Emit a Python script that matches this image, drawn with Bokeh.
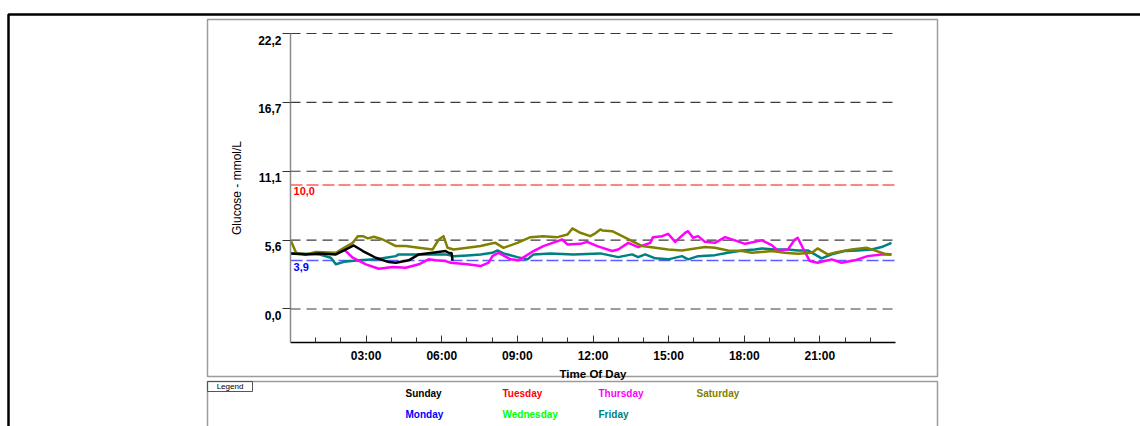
from bokeh.plotting import figure
from bokeh.models import FixedTicker, Label, BoxAnnotation, Range1d
from bokeh.embed import file_html
from bokeh.resources import INLINE

# ---------------- data ----------------
days = ["Sunday", "Monday", "Tuesday", "Wednesday", "Thursday", "Friday", "Saturday"]
day_colors = ["#000000", "#0000ff", "#ff0000", "#00ff00", "#ff00ff", "#008080", "#808000"]

y_ticks = [0.0, 5.55, 11.1, 16.65, 22.2]
y_tick_labels = ["0,0", "5,6", "11,1", "16,7", "22,2"]
x_ticks = [3, 6, 9, 12, 15, 18, 21]
x_tick_labels = ["03:00", "06:00", "09:00", "12:00", "15:00", "18:00", "21:00"]
x_minor_ticks = list(range(1, 24))
x_bounds = (0, 24)
y_bounds = (-2.7, 22.2)

low_limit = 3.9
low_label = "3,9"
high_limit = 10.0
high_label = "10,0"

sunday_hours = [0.02, 0.61, 1.13, 1.80, 2.20, 2.51, 2.87, 3.38, 3.90, 4.18, 4.69, 5.09,
                5.64, 6.15, 6.27, 6.39, 6.43]
sunday_values = [4.48, 4.40, 4.48, 4.40, 4.80, 5.12, 4.67, 4.13, 3.78, 3.73, 3.92, 4.40,
                 4.53, 4.67, 4.53, 4.50, 3.90]

friday_hours = [0.02, 0.61, 1.13, 1.60, 1.80, 2.12, 2.71, 3.38, 3.78, 4.18, 4.29, 4.85,
                5.64, 6.15, 6.47, 7.02, 7.54, 8.01, 8.21, 8.45, 9.00, 9.40, 9.64, 10.31,
                11.22, 12.29, 13.00, 13.55, 13.79, 14.07, 14.47, 14.98, 15.53, 15.77,
                16.17, 16.84, 17.35, 17.91, 18.42, 18.70, 19.21, 19.73, 20.12, 20.52,
                20.80, 21.07, 21.47, 21.98, 22.50, 23.05, 23.45, 23.84]
friday_values = [4.48, 4.45, 4.40, 4.13, 3.60, 3.80, 3.92, 4.00, 4.13, 4.26, 4.40, 4.40,
                 4.40, 4.40, 4.26, 4.32, 4.40, 4.53, 4.72, 4.48, 4.18, 4.00, 4.40, 4.48,
                 4.40, 4.48, 4.18, 4.40, 4.18, 4.40, 4.08, 4.00, 4.26, 4.00,
                 4.26, 4.34, 4.53, 4.72, 4.80, 4.88, 4.80, 4.80, 4.72, 4.72,
                 4.40, 4.08, 4.40, 4.67, 4.72, 4.80, 4.99, 5.33]

thursday_hours = [2.12, 2.47, 2.99, 3.50, 4.06, 4.57, 5.09, 5.48, 5.76, 6.15, 6.35, 7.02,
                  7.54, 7.86, 8.01, 8.25, 8.73, 9.04, 9.32, 9.64, 10.03, 10.51, 10.78,
                  10.98, 11.50, 11.77, 12.17, 12.76, 13.00, 13.40, 13.79, 14.27, 14.38,
                  14.74, 14.98, 15.26, 15.65, 15.77, 15.97, 16.17, 16.44, 16.84, 17.24,
                  17.63, 18.03, 18.70, 19.09, 19.33, 19.73, 20.01, 20.12, 20.32, 20.60,
                  20.91, 21.47, 21.86, 22.38, 22.89, 23.45, 23.84]
thursday_values = [4.80, 4.13, 3.60, 3.24, 3.38, 3.32, 3.60, 4.00, 3.92, 3.86, 3.73, 3.60,
                   3.46, 3.73, 4.26, 4.53, 4.00, 3.92, 4.26, 4.67, 5.07, 5.41, 5.60,
                   5.20, 5.25, 5.41, 5.07, 4.67, 4.80, 5.33, 4.99, 5.33, 5.79,
                   5.87, 6.06, 5.41, 6.14, 6.27, 5.74, 5.87, 5.41, 5.33, 5.79,
                   5.53, 5.25, 5.53, 5.15, 4.72, 4.80, 5.60, 5.74, 4.93, 3.86,
                   3.73, 4.00, 3.73, 3.92, 4.26, 4.40, 4.40]

saturday_hours = [0.02, 0.22, 0.61, 1.01, 1.80, 2.12, 2.47, 2.67, 2.87, 3.07, 3.31, 3.66,
                  4.18, 4.57, 5.09, 5.64, 5.88, 6.07, 6.23, 6.47, 7.02, 7.54, 7.93, 8.13,
                  8.45, 9.00, 9.52, 10.03, 10.59, 10.99, 11.18, 11.50, 11.89, 12.09,
                  12.29, 12.37, 12.76, 13.16, 13.55, 13.95, 14.47, 14.98, 15.53, 16.05,
                  16.44, 16.84, 17.35, 17.91, 18.30, 19.09, 19.61, 20.12, 20.68, 20.91,
                  21.31, 21.71, 22.26, 22.85, 23.17, 23.56, 23.84]
saturday_values = [5.47, 4.53, 4.40, 4.60, 4.53, 4.93, 5.33, 5.87, 5.87, 5.69, 5.82, 5.60,
                   5.07, 5.07, 4.93, 4.80, 5.60, 5.87, 4.93, 4.80, 4.93, 5.07, 5.25, 5.33,
                   4.93, 5.33, 5.79, 5.87, 5.79, 6.00, 6.49, 6.14, 5.87, 6.10,
                   6.41, 6.33, 6.27, 5.87, 5.47, 5.07, 4.93, 4.80, 4.72, 4.88,
                   4.99, 4.93, 4.72, 4.67, 4.53, 4.67, 4.53, 4.45, 4.53, 4.88,
                   4.40, 4.60, 4.80, 4.93, 4.72, 4.45, 4.40]

series = [
    ("Friday", friday_hours, friday_values),
    ("Thursday", thursday_hours, thursday_values),
    ("Saturday", saturday_hours, saturday_values),
    ("Sunday", sunday_hours, sunday_values),
]

FONT = "Liberation Sans"
W, H = 1140, 426

# plot-area placement on the page (pixels)
PX_LEFT, PX_RIGHT, PX_TOP, PX_BOTTOM = 290, 895, 33, 342
kx = (PX_RIGHT - PX_LEFT) / (x_bounds[1] - x_bounds[0])
ky = (PX_BOTTOM - PX_TOP) / (y_bounds[1] - y_bounds[0])
x_start = x_bounds[0] - PX_LEFT / kx
x_end = x_bounds[1] + (W - PX_RIGHT) / kx
y_end = y_bounds[1] + PX_TOP / ky
y_start = y_bounds[0] - (H - PX_BOTTOM) / ky

p = figure(width=W, height=H, title=None,
           x_range=Range1d(x_start, x_end), y_range=Range1d(y_start, y_end),
           output_backend="svg", toolbar_location=None,
           min_border=0, min_border_left=0, min_border_right=0,
           min_border_top=0, min_border_bottom=0)
p.outline_line_color = None
p.background_fill_color = "white"
p.border_fill_color = "white"
p.xgrid.visible = False
p.ygrid.visible = False


def sy(page_y):
    return H - page_y


# ---------------- decorations ----------------
box_kw = dict(left_units="screen", right_units="screen", top_units="screen",
              bottom_units="screen", fill_color=None, line_alpha=1.0, level="underlay")
# outer black frame (top + left visible)
p.add_layout(BoxAnnotation(left=8, right=W + 40, top=sy(14), bottom=-40,
                           line_color="#000000", line_width=2.5, **box_kw))
# chart panel
p.add_layout(BoxAnnotation(left=207, right=937, top=sy(19), bottom=sy(376),
                           line_color="#9c9c9c", line_width=1.5, **box_kw))
# legend panel
p.add_layout(BoxAnnotation(left=207, right=937, top=sy(381), bottom=-40,
                           line_color="#9c9c9c", line_width=1.5, **box_kw))
p.add_layout(BoxAnnotation(left=207, right=252, top=sy(381), bottom=sy(391),
                           line_color="#555555", line_width=1, **box_kw))
p.add_layout(Label(x=229.5, y=sy(386), x_units="screen", y_units="screen", text="Legend",
                   text_font=FONT, text_font_size="8px", text_color="#000000",
                   text_align="center", text_baseline="middle"))

col_x = [405, 502, 598, 696]
row_y = [sy(393), sy(414)]
for i, (name, col) in enumerate(zip(days, day_colors)):
    p.add_layout(Label(x=col_x[i // 2], y=row_y[i % 2], x_units="screen", y_units="screen",
                       text=name, text_color=col, text_font=FONT, text_font_style="bold",
                       text_font_size="10px", text_baseline="middle"))

# grid lines (dashed, only across the plot area)
p.segment(x0=[x_bounds[0]] * len(y_ticks), x1=[x_bounds[1]] * len(y_ticks),
          y0=y_ticks, y1=y_ticks, line_color="#3a3a3a", line_dash="10 6", line_width=1.2)

# limit lines
p.segment(x0=[x_bounds[0]], x1=[x_bounds[1]], y0=[high_limit], y1=[high_limit],
          line_color="#ff5c5c", line_dash="12 4", line_width=1.5)
p.segment(x0=[x_bounds[0]], x1=[x_bounds[1]], y0=[low_limit], y1=[low_limit],
          line_color="#5c5cff", line_dash="12 4", line_width=1.5)
p.add_layout(Label(x=x_bounds[0] + 0.12, y=high_limit, text=high_label, text_color="#ff0000",
                   text_font=FONT, text_font_style="bold", text_font_size="11px",
                   text_baseline="top", y_offset=-2))
p.add_layout(Label(x=x_bounds[0] + 0.12, y=low_limit, text=low_label, text_color="#0000ff",
                   text_font=FONT, text_font_style="bold", text_font_size="11px",
                   text_baseline="top", y_offset=-2))

# data lines
color_of = dict(zip(days, day_colors))
for name, hrs, vals in series:
    p.line(hrs, vals, line_color=color_of[name], line_width=2.5, line_join="round")

# ---------------- axes ----------------
yax = p.yaxis[0]
yax.fixed_location = x_bounds[0]
yax.bounds = y_bounds
yax.ticker = FixedTicker(ticks=y_ticks, minor_ticks=[])
# leading blank line drops each label just below its gridline, as in the original
yax.major_label_overrides = {t: "\n" + l for t, l in zip(y_ticks, y_tick_labels)}
yax.axis_line_color = "#8a8a8a"
yax.axis_line_width = 1.5
yax.major_tick_out = 8
yax.major_tick_in = 0
yax.major_tick_line_color = "#333333"
yax.major_tick_line_width = 1.2
yax.minor_tick_line_color = None
yax.major_label_text_font = FONT
yax.major_label_text_font_style = "bold"
yax.major_label_text_font_size = "12px"
yax.major_label_text_color = "#000000"
yax.major_label_text_line_height = 1.0
yax.major_label_standoff = 1
yax.axis_label = "Glucose - mmol/L"
yax.axis_label_text_font = FONT
yax.axis_label_text_font_style = "normal"
yax.axis_label_text_font_size = "12px"
yax.axis_label_text_color = "#000000"
yax.axis_label_standoff = 11

xax = p.xaxis[0]
xax.fixed_location = y_bounds[0]
xax.bounds = x_bounds
xax.ticker = FixedTicker(ticks=x_ticks, minor_ticks=x_minor_ticks)
xax.major_label_overrides = {t: l for t, l in zip(x_ticks, x_tick_labels)}
xax.axis_line_color = "#000000"
xax.axis_line_width = 1.5
xax.major_tick_in = 7
xax.major_tick_out = 0
xax.minor_tick_in = 5
xax.minor_tick_out = 0
xax.major_tick_line_color = "#333333"
xax.minor_tick_line_color = "#333333"
xax.major_label_text_font = FONT
xax.major_label_text_font_style = "bold"
xax.major_label_text_font_size = "12px"
xax.major_label_text_color = "#000000"
xax.major_label_standoff = 6
xax.axis_label = "Time Of Day"
xax.axis_label_text_font = FONT
xax.axis_label_text_font_style = "bold"
xax.axis_label_text_font_size = "11.5px"
xax.axis_label_text_color = "#000000"
xax.axis_label_standoff = 2

open("out.html", "w").write(file_html(p, INLINE))
